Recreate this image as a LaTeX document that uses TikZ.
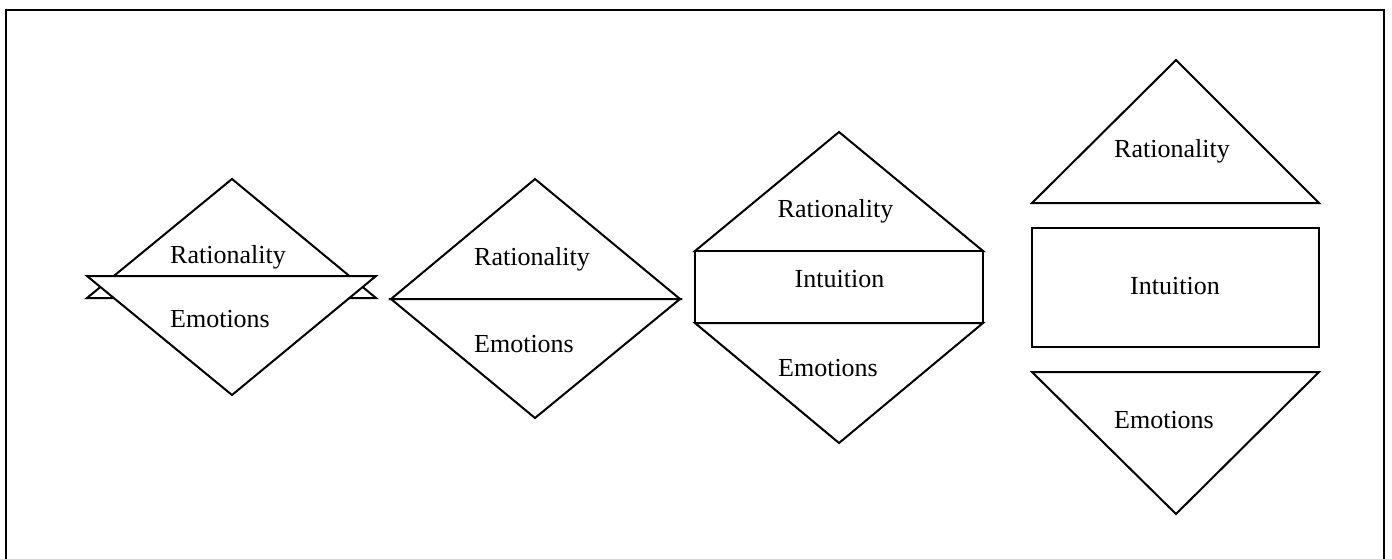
\documentclass[tikz,border=0pt]{standalone}
\usepackage{fontspec}
\setmainfont{Liberation Serif}
\begin{document}
\begin{tikzpicture}[x=0.5pt,y=-0.5pt,
  part/.style={draw=black,fill=white,line width=1pt,line join=miter},
  label/.style={anchor=base,inner sep=0pt,font=\fontsize{13}{15}\selectfont}]
\useasboundingbox (0,0) rectangle (1392,558);
% outer frame (open at the bottom edge of the page)
\draw[line width=1.1pt] (6,570) -- (6,10) -- (1384,10) -- (1384,570);

% 1: overlapping triangles
\draw[part] (232,179) -- (376,298) -- (87,298) -- cycle;
\draw[part] (87,276) -- (376,276) -- (232,395) -- cycle;
\node[label] (r1) at (228,263) {Rationality};
\node[label] (e1) at (220,327) {Emotions};

% 2: two triangles sharing the base
\draw[part] (535,179) -- (680,299) -- (391,299) -- cycle;
\draw[part] (391,299) -- (680,299) -- (535,418) -- cycle;
\node[label] (r2) at (532,265) {Rationality};
\node[label] (e2) at (524,352) {Emotions};

% 3: triangles with a band between them
\draw[part] (839,132) -- (983,251) -- (695,251) -- cycle;
\draw[part] (695,251) rectangle (983,323);
\draw[part] (695,323) -- (983,323) -- (839,443) -- cycle;
\node[label] (r3) at (835.5,217.5) {Rationality};
\node[label] (i3) at (839.5,287.5) {Intuition};
\node[label] (e3) at (828,376) {Emotions};

% 4: separated triangles and box
\draw[part] (1176,60) -- (1319,203) -- (1032,203) -- cycle;
\draw[part] (1032,228) rectangle (1319,347);
\draw[part] (1032,372) -- (1319,372) -- (1176,514) -- cycle;
\node[label] (r4) at (1172,157) {Rationality};
\node[label] (i4) at (1175,294) {Intuition};
\node[label] (e4) at (1164,428) {Emotions};
\end{tikzpicture}
\end{document}
